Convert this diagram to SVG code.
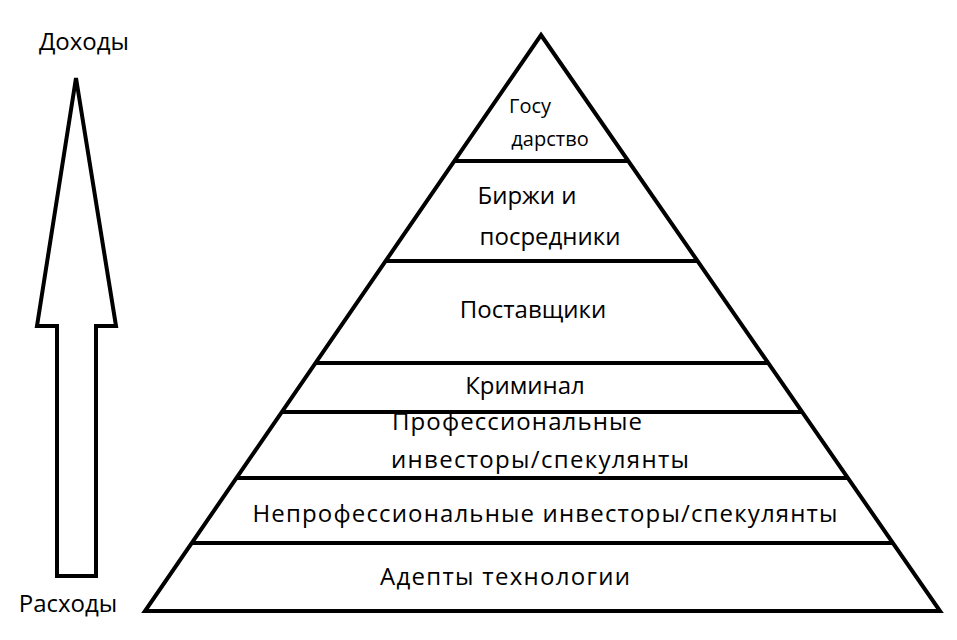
<svg xmlns="http://www.w3.org/2000/svg" width="957" height="640" viewBox="0 0 957 640">
<style>
.s{fill:none;stroke:#000;stroke-width:4;stroke-linejoin:miter}
text{font-family:"Open Sans","Liberation Sans",sans-serif;fill:#000;text-anchor:middle}
.m{font-size:24px}
.sm{font-size:20px}
</style>
<rect width="957" height="640" fill="#fff"/>
<g id="arrow"><polygon class="s" points="76,78 116,326 96,326 96,576 57,576 57,326 37,326"/></g>
<text class="m" x="84" y="50" font-size="26">Доходы</text>
<text class="m" x="68" y="612" font-size="26">Расходы</text>
<g id="pyramid"><polygon class="s" points="541,35 940,611 145,611"/></g>
<g id="connectors">
<line class="s" x1="454" y1="161" x2="628" y2="161"/>
<line class="s" x1="385" y1="261" x2="697" y2="261"/>
<line class="s" x1="315" y1="363" x2="768" y2="363"/>
<line class="s" x1="281" y1="412" x2="802" y2="412"/>
<line class="s" x1="236" y1="478" x2="848" y2="478"/>
<line class="s" x1="191" y1="543" x2="893" y2="543"/>
</g>
<g id="n1"><text class="sm" x="530" y="113">Госу</text><text class="sm" x="550" y="146">дарство</text></g>
<g id="n2"><text class="m" x="527" y="204">Биржи и</text><text class="m" x="550" y="245">посредники</text></g>
<g id="n3"><text class="m" x="533" y="318">Поставщики</text></g>
<g id="n4"><text class="m" x="525" y="394">Криминал</text></g>
<g id="n5"><text class="m" x="517" y="430" textLength="250">Профессиональные</text><text class="m" x="540" y="468" textLength="298">инвесторы/спекулянты</text></g>
<g id="n6"><text class="m" x="545" y="522" textLength="585">Непрофессиональные инвесторы/спекулянты</text></g>
<g id="n7"><text class="m" x="505" y="585" textLength="250">Адепты технологии</text></g>
</svg>
